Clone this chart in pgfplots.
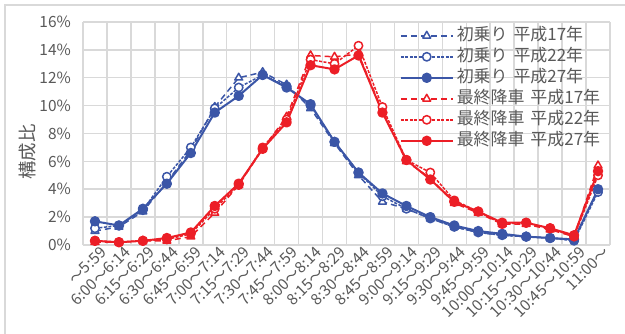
\documentclass[border=0pt]{standalone}
\usepackage{fontspec}
\setmainfont{Noto Sans CJK JP}
\usepackage{pgfplots}
\pgfplotsset{compat=1.18}
\definecolor{cblue}{RGB}{59,86,167}
\definecolor{cred}{RGB}{236,30,38}
\definecolor{gridc}{RGB}{217,217,217}
\definecolor{txt}{RGB}{89,89,89}
\newcommand{\lsp}{\hspace{6bp}}
\begin{document}
\begin{tikzpicture}
\useasboundingbox (0,0) rectangle (625bp,334bp);
\draw[gridc,line width=1.5bp] (5bp,-10bp) -- (5bp,329bp) -- (640bp,329bp);
\begin{axis}[
  at={(83bp,89bp)}, anchor=south west,
  scale only axis, width=527bp, height=223bp,
  xmin=-0.5, xmax=21.5, ymin=0, ymax=16,
  xtick={0,...,21},
  xticklabels={～5:59,6:00～6:14,6:15～6:29,6:30～6:44,6:45～6:59,7:00～7:14,7:15～7:29,7:30～7:44,7:45～7:59,8:00～8:14,8:15～8:29,8:30～8:44,8:45～8:59,9:00～9:14,9:15～9:29,9:30～9:44,9:45～9:59,10:00～10:14,10:15～10:29,10:30～10:44,10:45～10:59,11:00～},
  minor xtick={-0.5,0.5,...,21.5},
  ytick={0,2,...,16},
  yticklabels={0\%,2\%,4\%,6\%,8\%,10\%,12\%,14\%,16\%},
  xmajorgrids=false, xminorgrids=true, ymajorgrids=true,
  grid style={gridc,line width=1.5bp},
  minor grid style={gridc,line width=1.5bp},
  axis line style={gridc,line width=1.5bp},
  axis x line*=bottom, axis y line*=left,
  tick style={draw=none}, minor tick style={draw=none},
  tick label style={font=\fontsize{15.5}{17}\selectfont, text=txt},
  yticklabel style={anchor=east, inner sep=0pt, xshift=-12bp},
  xticklabel style={rotate=45, anchor=east, inner sep=0pt, xshift=3bp, yshift=-9bp},
  ylabel={構成比},
  ylabel style={at={(axis description cs:-0.1053,0.418)}, anchor=center, font=\fontsize{18.5}{20}\selectfont, text=txt},
  legend style={at={(0.595,0.995)}, anchor=north west, draw=none, fill=none,
    font=\fontsize{17}{19}\selectfont, text=txt, row sep=0bp,
    nodes={inner xsep=3bp, inner ysep=3bp, text height=12bp, text depth=3bp}},
  legend cell align=left,
  legend image code/.code={\draw[mark repeat=2,mark phase=2,#1] plot coordinates {(0bp,0bp) (26bp,0bp) (52bp,0bp)};},
  every axis plot/.append style={line join=round},
]
\addplot[cblue, line width=1.5bp, dash pattern=on 6bp off 4bp, mark=triangle*, mark size=4.5bp, mark options={solid, fill=white, line width=1.5bp}] coordinates {
(0,1.0)(1,1.3)(2,2.4)(3,4.5)(4,6.8)(5,9.9)(6,12.0)(7,12.4)(8,11.5)(9,9.8)(10,7.3)(11,5.0)(12,3.1)(13,2.6)(14,1.9)(15,1.3)(16,0.9)(17,0.7)(18,0.6)(19,0.5)(20,0.4)(21,3.9)};
\addlegendentry{初乗り\lsp 平成17年}
\addplot[cblue, line width=1.5bp, dash pattern=on 3bp off 1.5bp, mark=*, mark size=4.2bp, mark options={solid, fill=white, line width=1.5bp}] coordinates {
(0,1.2)(1,1.4)(2,2.5)(3,4.9)(4,7.0)(5,9.8)(6,11.3)(7,12.2)(8,11.4)(9,10.0)(10,7.4)(11,5.2)(12,3.5)(13,2.6)(14,1.9)(15,1.3)(16,0.9)(17,0.7)(18,0.6)(19,0.5)(20,0.3)(21,3.8)};
\addlegendentry{初乗り\lsp 平成22年}
\addplot[cblue, line width=2bp, mark=*, mark size=4.2bp, mark options={solid, fill=cblue}] coordinates {
(0,1.7)(1,1.4)(2,2.6)(3,4.4)(4,6.6)(5,9.5)(6,10.7)(7,12.2)(8,11.3)(9,10.1)(10,7.4)(11,5.2)(12,3.7)(13,2.8)(14,2.0)(15,1.4)(16,1.0)(17,0.8)(18,0.6)(19,0.5)(20,0.4)(21,4.0)};
\addlegendentry{初乗り\lsp 平成27年}
\addplot[cred, line width=1.5bp, dash pattern=on 6bp off 4bp, mark=triangle*, mark size=4.5bp, mark options={solid, fill=white, line width=1.5bp}] coordinates {
(0,0.2)(1,0.2)(2,0.3)(3,0.3)(4,0.6)(5,2.3)(6,4.3)(7,6.9)(8,9.2)(9,13.6)(10,13.5)(11,13.7)(12,9.6)(13,6.0)(14,4.8)(15,3.0)(16,2.3)(17,1.5)(18,1.5)(19,1.1)(20,0.6)(21,5.7)};
\addlegendentry{最終降車\lsp 平成17年}
\addplot[cred, line width=1.5bp, dash pattern=on 3bp off 1.5bp, mark=*, mark size=4.2bp, mark options={solid, fill=white, line width=1.5bp}] coordinates {
(0,0.3)(1,0.2)(2,0.3)(3,0.4)(4,0.8)(5,2.6)(6,4.3)(7,7.0)(8,9.0)(9,13.3)(10,13.0)(11,14.3)(12,9.9)(13,6.1)(14,5.2)(15,3.2)(16,2.4)(17,1.5)(18,1.6)(19,1.2)(20,0.6)(21,5.0)};
\addlegendentry{最終降車\lsp 平成22年}
\addplot[cred, line width=2bp, mark=*, mark size=4.2bp, mark options={solid, fill=cred}] coordinates {
(0,0.3)(1,0.2)(2,0.3)(3,0.5)(4,0.9)(5,2.8)(6,4.4)(7,6.9)(8,8.8)(9,12.9)(10,12.6)(11,13.6)(12,9.5)(13,6.1)(14,4.7)(15,3.1)(16,2.4)(17,1.6)(18,1.6)(19,1.2)(20,0.7)(21,5.3)};
\addlegendentry{最終降車\lsp 平成27年}
\end{axis}
\end{tikzpicture}
\end{document}
